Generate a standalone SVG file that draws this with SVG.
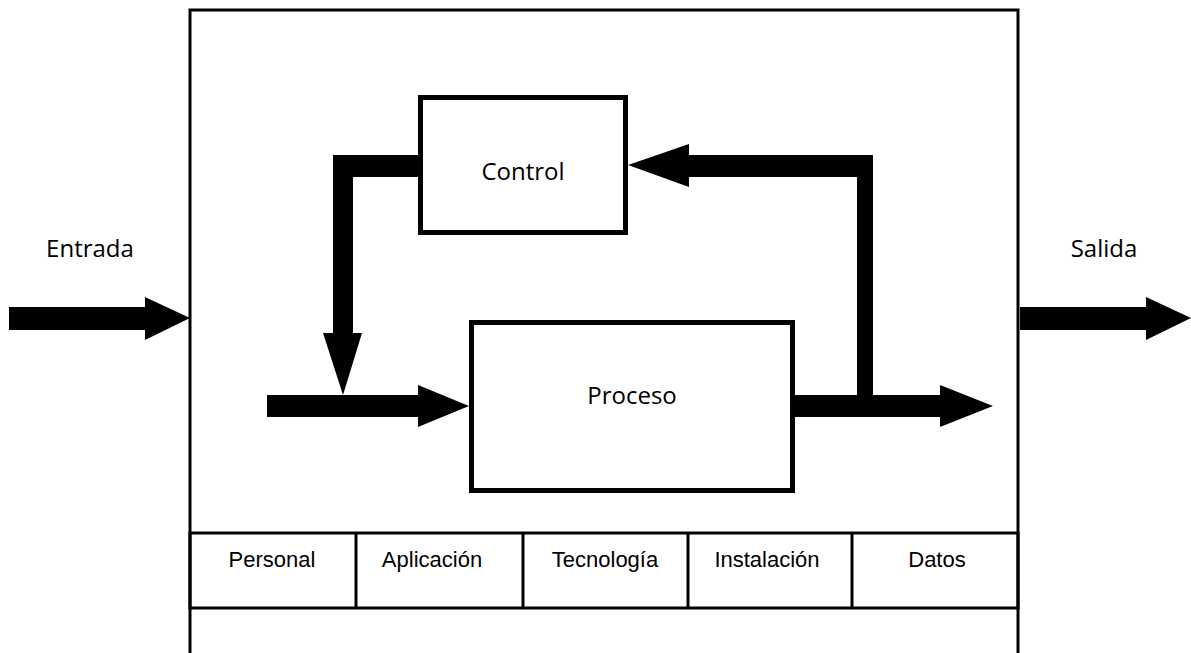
<svg xmlns="http://www.w3.org/2000/svg" width="1191" height="653" viewBox="0 0 1191 653">
<style>
.box{fill:#fff;stroke:#000;stroke-width:5}
.frame{fill:none;stroke:#000;stroke-width:3}
.cell{fill:none;stroke:#000;stroke-width:3}
.arr{fill:#000}
.t1{font-family:"Open Sans","Noto Sans",sans-serif;font-size:24px;fill:#000;text-anchor:middle}
.t2{font-family:"Liberation Sans",Arial,sans-serif;font-size:22px;fill:#000;text-anchor:middle}
</style>
<rect width="1191" height="653" fill="#fff"/>
<g id="frame">
<rect class="frame" x="190" y="10" width="828" height="660"/>
</g>
<g id="control">
<rect class="box" x="420.5" y="97.5" width="205" height="135"/>
<text class="t1" x="523" y="180">Control</text>
</g>
<g id="proceso">
<rect class="box" x="471.5" y="322.5" width="321" height="168"/>
<text class="t1" x="632" y="404">Proceso</text>
</g>
<g id="entrada">
<text class="t1" x="90" y="257">Entrada</text>
</g>
<g id="salida">
<text class="t1" x="1104" y="257">Salida</text>
</g>
<g id="recursos">
<rect class="cell" x="190" y="533" width="828" height="75"/>
<line class="cell" x1="356" y1="533" x2="356" y2="608"/>
<line class="cell" x1="523" y1="533" x2="523" y2="608"/>
<line class="cell" x1="688" y1="533" x2="688" y2="608"/>
<line class="cell" x1="852" y1="533" x2="852" y2="608"/>
<text class="t2" x="272" y="567">Personal</text>
<text class="t2" x="432" y="567">Aplicación</text>
<text class="t2" x="605" y="567">Tecnología</text>
<text class="t2" x="767" y="567">Instalación</text>
<text class="t2" x="937" y="567">Datos</text>
</g>
<g id="connectors">
<polygon class="arr" points="9,307 145,307 145,297 190,318 145,340 145,330 9,330"/>
<polygon class="arr" points="1020,307 1146,307 1146,297 1191,318 1146,340 1146,330 1020,330"/>
<polygon class="arr" points="418,155 333,155 333,333 323,333 343,395 362,333 353,333 353,177 418,177"/>
<polygon class="arr" points="267,395 418,395 418,385 469,406 418,427 418,417 267,417"/>
<polygon class="arr" points="795,395 940,395 940,385 993,406 940,427 940,417 795,417"/>
<polygon class="arr" points="857,395 873,395 873,155 689,155 689,144 628,165 689,187 689,177 857,177"/>
</g>
</svg>
